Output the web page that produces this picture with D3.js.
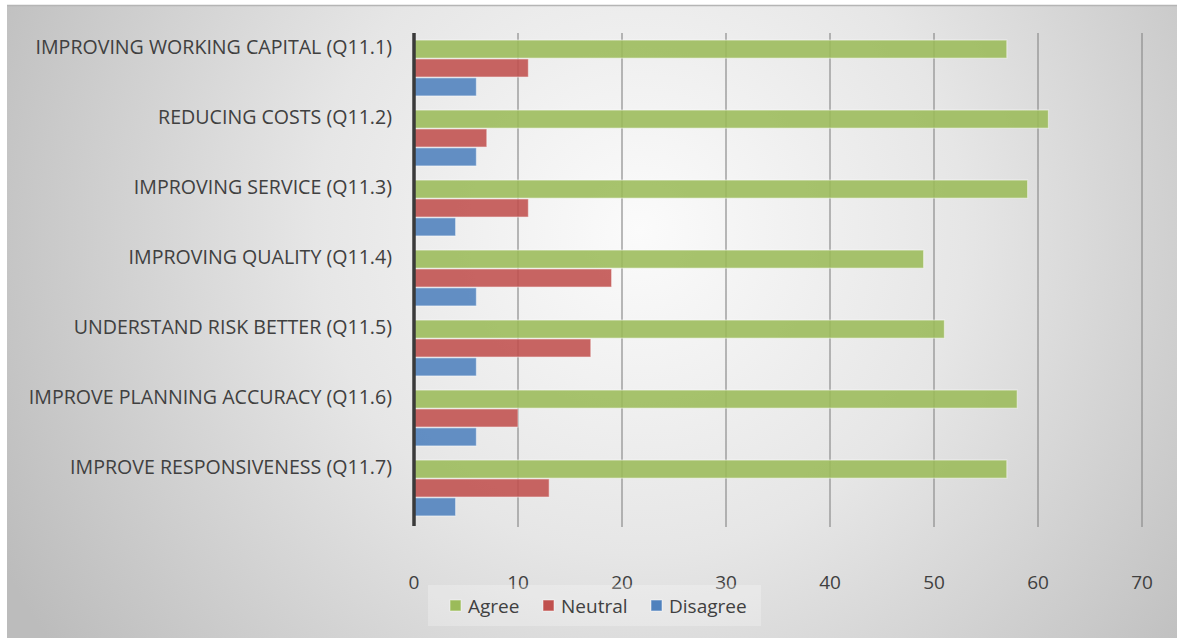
<!DOCTYPE html>
<html>
<head>
<meta charset="utf-8">
<script src="https://cdn.jsdelivr.net/npm/d3@7"></script>
<style>
  body { margin: 0; background: #fff; }
  text { font-family: "Open Sans", "DejaVu Sans", sans-serif; fill: #404040; }
</style>
</head>
<body>
<svg id="chart"></svg>
<script>
var width = 1177,
    height = 638;

var categories = [
  "IMPROVING WORKING CAPITAL (Q11.1)",
  "REDUCING COSTS (Q11.2)",
  "IMPROVING SERVICE (Q11.3)",
  "IMPROVING QUALITY (Q11.4)",
  "UNDERSTAND RISK BETTER (Q11.5)",
  "IMPROVE PLANNING ACCURACY (Q11.6)",
  "IMPROVE RESPONSIVENESS (Q11.7)"
];
var series = ["Agree", "Neutral", "Disagree"];
var agree = [57, 61, 59, 49, 51, 58, 57];
var neutral = [11, 7, 11, 19, 17, 10, 13];
var disagree = [6, 6, 4, 6, 6, 6, 4];
var xTicks = [0, 10, 20, 30, 40, 50, 60, 70];
var colors = ["#9bbb59", "#c0504d", "#4f81bd"];

var values = [agree, neutral, disagree];

var svg = d3.select("#chart").attr("width", width).attr("height", height);

// background panel
var defs = svg.append("defs");
var grad = defs.append("radialGradient")
  .attr("id", "bg")
  .attr("gradientUnits", "userSpaceOnUse")
  .attr("cx", 640).attr("cy", 230).attr("r", 720);
grad.append("stop").attr("offset", "0%").attr("stop-color", "#fbfbfb");
grad.append("stop").attr("offset", "45%").attr("stop-color", "#e6e6e6");
grad.append("stop").attr("offset", "100%").attr("stop-color", "#bcbcbc");

svg.append("rect")
  .attr("x", 7).attr("y", 5)
  .attr("width", width - 7).attr("height", height - 5)
  .attr("fill", "url(#bg)");
svg.append("line")
  .attr("x1", 7).attr("x2", width).attr("y1", 5.5).attr("y2", 5.5)
  .attr("stroke", "#b5b5b5").attr("stroke-width", 1.5);

var x = d3.scaleLinear().domain([0, 70]).range([414, 1142]);
var y = d3.scaleBand().domain(categories).range([33, 523])
  .paddingInner(0.18).paddingOuter(0.09);
var ySub = d3.scaleBand().domain(series).range([0, y.bandwidth()]).padding(0.04);

// gridlines
svg.append("g").selectAll("line")
  .data(xTicks.slice(1))
  .enter().append("line")
  .attr("x1", d => x(d)).attr("x2", d => x(d))
  .attr("y1", 33).attr("y2", 527)
  .attr("stroke", "#8c8c8c")
  .attr("stroke-width", 1.5)
  .attr("opacity", 0.8);

// bars
var rows = [];
categories.forEach((c, i) => {
  series.forEach((s, j) => {
    rows.push({ cat: c, series: s, value: values[j][i], color: colors[j] });
  });
});

svg.append("g").selectAll("rect")
  .data(rows)
  .enter().append("rect")
  .attr("x", x(0))
  .attr("y", d => y(d.cat) + ySub(d.series))
  .attr("width", d => x(d.value) - x(0))
  .attr("height", ySub.bandwidth())
  .attr("fill", d => d.color)
  .attr("fill-opacity", 0.88)
  .attr("stroke", "#ffffff")
  .attr("stroke-opacity", 0.45)
  .attr("stroke-width", 1.2);

// value axis line
svg.append("line")
  .attr("x1", x(0)).attr("x2", x(0))
  .attr("y1", 33).attr("y2", 526)
  .attr("stroke", "#3a3a3a").attr("stroke-width", 3.5);

// x tick labels
svg.append("g").selectAll("text")
  .data(xTicks)
  .enter().append("text")
  .attr("x", d => x(d))
  .attr("y", 589)
  .attr("text-anchor", "middle")
  .attr("font-size", 19)
  .text(d => d);

// category labels
svg.append("g").selectAll("text")
  .data(categories)
  .enter().append("text")
  .attr("x", 392)
  .attr("y", d => y(d) + 8)
  .attr("dy", "0.35em")
  .attr("text-anchor", "end")
  .attr("font-size", 19.6)
  .text(d => d);

// legend
var legend = svg.append("g");
legend.append("rect")
  .attr("x", 428).attr("y", 585)
  .attr("width", 333).attr("height", 41)
  .attr("fill", "#ffffff").attr("fill-opacity", 0.25);

var legendX = [450, 543, 651];
var item = legend.selectAll("g.item")
  .data(series)
  .enter().append("g")
  .attr("class", "item")
  .attr("transform", (d, i) => "translate(" + legendX[i] + ",600)");
item.append("rect")
  .attr("width", 11).attr("height", 11)
  .attr("fill", (d, i) => colors[i])
  .attr("stroke", "#ffffff").attr("stroke-opacity", 0.5);
item.append("text")
  .attr("x", 18).attr("y", 6)
  .attr("dy", "0.35em")
  .attr("font-size", 19)
  .text(d => d);
</script>
</body>
</html>
